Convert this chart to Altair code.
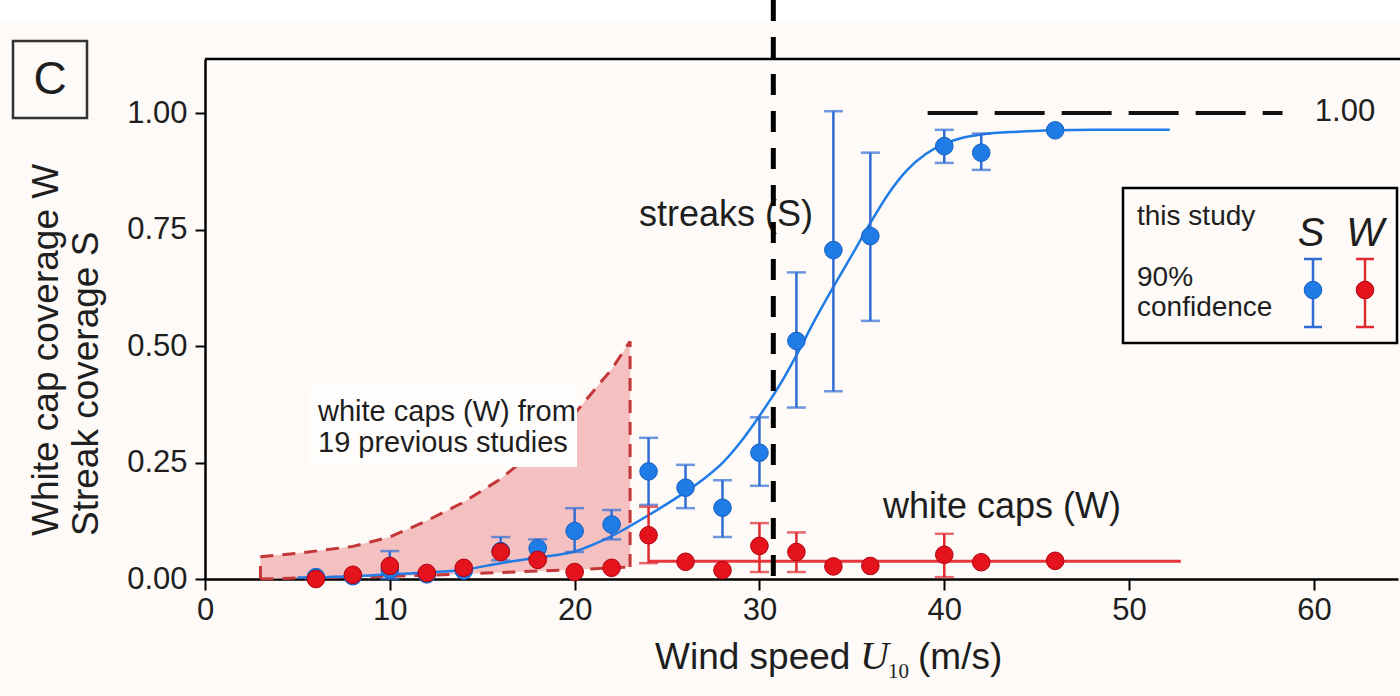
import altair as alt
import pandas as pd

FONT = "Liberation Sans"
SERIF = "Liberation Serif"

# ---------------- data ----------------
# this study: streak coverage S (blue) and white cap coverage W (red)
u_bins = [6, 8, 10, 12, 14, 16, 18, 20, 22, 24, 26, 28, 30, 32, 34, 36, 40, 42, 46]
s_mean = [0.004, 0.006, 0.020, 0.010, 0.018, 0.060, 0.066, 0.103, 0.117, 0.231, 0.196, 0.153,
          0.271, 0.511, 0.706, 0.736, 0.929, 0.915, 0.963]
s_low = [None, None, 0.0, None, None, 0.040, 0.046, 0.058, 0.085, 0.159, 0.152, 0.090,
         0.200, 0.368, 0.403, 0.554, 0.893, 0.878, None]
s_high = [None, None, 0.060, None, None, 0.090, 0.085, 0.152, 0.148, 0.303, 0.245, 0.212,
          0.347, 0.658, 1.004, 0.915, 0.964, 0.956, None]
w_mean = [0.0, 0.009, 0.028, 0.013, 0.024, 0.058, 0.041, 0.015, 0.024, 0.094, 0.037, 0.019,
          0.071, 0.058, 0.027, 0.028, 0.052, 0.036, 0.039]
w_low = [None, None, None, None, None, None, None, None, None, 0.034, None, None,
         0.015, 0.015, None, None, 0.004, None, None]
w_high = [None, None, None, None, None, None, None, None, None, 0.155, None, None,
          0.120, 0.100, None, None, 0.097, None, None]

# fitted curves
s_fit_u = [5, 8, 10, 12, 14, 16, 18, 20, 22, 24, 26, 27, 28, 29, 30, 31, 32, 33, 34, 35, 36,
           37, 38, 39, 40, 41, 42, 44, 46, 48, 52.2]
s_fit_v = [0.003, 0.006, 0.010, 0.014, 0.020, 0.034, 0.046, 0.059, 0.092, 0.137, 0.187, 0.215,
           0.249, 0.295, 0.350, 0.410, 0.480, 0.556, 0.627, 0.695, 0.764, 0.828, 0.878, 0.912,
           0.934, 0.947, 0.954, 0.960, 0.963, 0.964, 0.964]
w_fit_u = [24, 52.8]
w_fit_v = [0.038, 0.038]

# white caps from 19 previous studies (envelope)
prev_u = [3, 5, 8, 10, 12, 14, 16, 18, 20, 22, 23]
prev_low = [0.0, 0.002, 0.004, 0.006, 0.008, 0.011, 0.014, 0.017, 0.020, 0.024, 0.026]
prev_high = [0.048, 0.055, 0.070, 0.090, 0.125, 0.165, 0.215, 0.280, 0.355, 0.450, 0.510]

threshold_u = [30.75]
ref_u = [39.1, 58.3]
ref_v = [1.0]

x_ticks = [0, 10, 20, 30, 40, 50, 60]
y_ticks = [0.0, 0.25, 0.5, 0.75, 1.0]

# ---------------- layout ----------------
W, H = 1193, 520
XMAX, YMAX = 64.55, 1.116
BG = "#fdfaf7"
BLUE = "#1f7be6"
BLUE_BAR = "#2f6cd4"
RED = "#e5141c"
RED_BAR = "#e02a30"
DRED = "#c43638"
TXT = "#1e1e1e"
PSIZE = 310

xs = alt.Scale(domain=[0, XMAX], nice=False, zero=False)
ys = alt.Scale(domain=[0, YMAX], nice=False, zero=False)
xaxis = alt.Axis(values=x_ticks, title=None, grid=False, domainColor="black", domainWidth=2.5,
                 tickColor="black", tickWidth=2, tickSize=11, labelFont=FONT, labelFontSize=31,
                 labelColor=TXT, labelPadding=5, format="d", labelFlush=False, labelOverlap=False)
yaxis = alt.Axis(values=y_ticks, title=None, grid=False, domainColor="black", domainWidth=2.5,
                 tickColor="black", tickWidth=2, tickSize=10, labelFont=FONT, labelFontSize=31,
                 labelColor=TXT, labelPadding=8, format=".2f", labelOverlap=False)


def X(f, **kw):
    return alt.X(f, type="quantitative", scale=xs, axis=xaxis, **kw)


def Y(f, **kw):
    return alt.Y(f, type="quantitative", scale=ys, axis=yaxis, **kw)


one = pd.DataFrame({"k": [0]})

pts = pd.DataFrame({"u": u_bins, "s": s_mean, "slo": s_low, "shi": s_high,
                    "w": w_mean, "wlo": w_low, "whi": w_high})
s_err = pts.dropna(subset=["slo", "shi"])
w_err = pts.dropna(subset=["wlo", "whi"])
s_caps = pd.DataFrame({"u": list(s_err["u"]) * 2, "v": list(s_err["slo"]) + list(s_err["shi"])})
w_caps = pd.DataFrame({"u": list(w_err["u"]) * 2, "v": list(w_err["wlo"]) + list(w_err["whi"])})
s_fit = pd.DataFrame({"u": s_fit_u, "v": s_fit_v})
w_fit = pd.DataFrame({"u": w_fit_u, "v": w_fit_v})
prev = pd.DataFrame({"u": prev_u, "lo": prev_low, "hi": prev_high})


def ptext(txt, px, py, size, align="left", baseline="middle", angle=0, font=FONT, style="normal",
          color=TXT):
    return alt.Chart(one).mark_text(text=txt, align=align, baseline=baseline, angle=angle,
                                    font=font, fontSize=size, fontStyle=style, color=color).encode(
        x=alt.value(px), y=alt.value(py))


def prect(x1, y1, x2, y2, fill, stroke=None, sw=0):
    kw = dict(fill=fill, strokeWidth=sw)
    if stroke:
        kw["stroke"] = stroke
    return alt.Chart(one).mark_rect(**kw).encode(
        x=alt.value(x1), x2=alt.value(x2), y=alt.value(y1), y2=alt.value(y2))


layers = []
# white strip on top of the picture
layers.append(prect(-205, -59, W + 2, -37, "white"))
# top border of the frame
layers.append(alt.Chart(one).mark_rule(color="black", strokeWidth=2.5).encode(
    x=alt.value(0), x2=alt.value(W + 2), y=alt.value(0)))

# previous studies envelope
layers.append(alt.Chart(prev).mark_area(color="#f4c1c0", opacity=1).encode(
    x=X("u"), y=Y("lo"), y2="hi"))
layers.append(alt.Chart(prev).mark_line(color=DRED, strokeWidth=3, strokeDash=[13, 9]).encode(
    x=X("u"), y=Y("hi")))
layers.append(alt.Chart(prev).mark_line(color=DRED, strokeWidth=3, strokeDash=[13, 9]).encode(
    x=X("u"), y=Y("lo")))
edges = pd.DataFrame({"u": [prev_u[0], prev_u[-1]], "lo": [prev_low[0], prev_low[-1]],
                      "hi": [prev_high[0], prev_high[-1]]})
layers.append(alt.Chart(edges).mark_rule(color=DRED, strokeWidth=3, strokeDash=[13, 9]).encode(
    x=X("u"), y=Y("lo"), y2="hi"))
# label box for previous studies
layers.append(prect(307 - 205, 385 - 59, 577 - 205, 467 - 59, "#fefdfc"))
layers.append(ptext("white caps (W) from", 318 - 205, 412 - 59, 29))
layers.append(ptext("19 previous studies", 318 - 205, 443 - 59, 29))

# fits
layers.append(alt.Chart(s_fit).mark_line(color=BLUE, strokeWidth=2.5, interpolate="monotone").encode(
    x=X("u"), y=Y("v")))
layers.append(alt.Chart(w_fit).mark_line(color="#e8363c", strokeWidth=3).encode(
    x=X("u"), y=Y("v")))

# streaks: error bars + points
layers.append(alt.Chart(s_err).mark_rule(color=BLUE_BAR, strokeWidth=2.5).encode(
    x=X("u"), y=Y("slo"), y2="shi"))
layers.append(alt.Chart(s_caps).mark_tick(color=BLUE_BAR, orient="horizontal", size=19,
                                          thickness=2.5).encode(x=X("u"), y=Y("v")))
layers.append(alt.Chart(pts).mark_point(filled=True, shape="circle", size=PSIZE, color=BLUE,
                                        opacity=1, stroke="#1660c0", strokeWidth=1).encode(
    x=X("u"), y=Y("s")))
# white caps: error bars + points
layers.append(alt.Chart(w_err).mark_rule(color=RED_BAR, strokeWidth=2.5).encode(
    x=X("u"), y=Y("wlo"), y2="whi"))
layers.append(alt.Chart(w_caps).mark_tick(color=RED_BAR, orient="horizontal", size=19,
                                          thickness=2.5).encode(x=X("u"), y=Y("v")))
layers.append(alt.Chart(pts).mark_point(filled=True, shape="circle", size=PSIZE, color=RED,
                                        opacity=1, stroke="#b00010", strokeWidth=1).encode(
    x=X("u"), y=Y("w")))

# annotations
layers.append(ptext("streaks (S)", 726 - 205, 215 - 59, 36, align="center"))
layers.append(ptext("white caps (W)", 1002 - 205, 507 - 59, 36, align="center"))

# reference line at 1.00
refdf = pd.DataFrame({"u": [ref_u[0]], "u2": [ref_u[1]], "v": ref_v})
layers.append(alt.Chart(refdf).mark_rule(color="#111111", strokeWidth=4, strokeDash=[50, 17]).encode(
    x=X("u"), x2="u2", y=Y("v")))
layers.append(ptext("1.00", 1345 - 205, 112 - 59, 31, align="center"))

# threshold (vertical dashed line)
thr = pd.DataFrame({"u": threshold_u})
layers.append(alt.Chart(thr).mark_rule(color="black", strokeWidth=5, strokeDash=[21, 16]).encode(
    x=X("u"), y=alt.value(-59), y2=alt.value(H)))

# legend box
layers.append(prect(1123 - 205, 188 - 59, 1397 - 205, 343 - 59, BG, stroke="black", sw=2.5))
layers.append(ptext("this study", 1137 - 205, 217 - 59, 28))
layers.append(ptext("90%", 1137 - 205, 278 - 59, 28))
layers.append(ptext("confidence", 1137 - 205, 308 - 59, 28))
layers.append(ptext("S", 1311 - 205, 234 - 59, 40, align="center", style="italic"))
layers.append(ptext("W", 1365 - 205, 234 - 59, 40, align="center", style="italic"))
for cx, col, pc, ps in [(1313 - 205, BLUE_BAR, BLUE, "#1660c0"), (1365 - 205, RED_BAR, RED, "#b00010")]:
    layers.append(alt.Chart(one).mark_rule(color=col, strokeWidth=2.5).encode(
        x=alt.value(cx), y=alt.value(259 - 59), y2=alt.value(327 - 59)))
    for yy in (259 - 59, 327 - 59):
        layers.append(alt.Chart(one).mark_rule(color=col, strokeWidth=2.5).encode(
            x=alt.value(cx - 9), x2=alt.value(cx + 9), y=alt.value(yy)))
    layers.append(alt.Chart(one).mark_point(filled=True, shape="circle", size=PSIZE, color=pc,
                                            opacity=1, stroke=ps, strokeWidth=1).encode(
        x=alt.value(cx), y=alt.value(290 - 59)))

# panel label "C"
layers.append(prect(13 - 205, 41 - 59, 87 - 205, 118 - 59, "none", stroke="#333333", sw=2.5))
layers.append(ptext("C", 50 - 205, 80 - 59, 46, align="center"))

# axis titles
layers.append(ptext("White cap coverage W", 47 - 205, 536 - 59, 37, align="left", angle=270))
layers.append(ptext("Streak coverage S", 87 - 205, 536 - 59, 37, align="left", angle=270))
bx = 655 - 205
by = 669 - 59
layers.append(ptext("Wind speed", bx, by, 37, baseline="alphabetic"))
layers.append(ptext("U", bx + 205, by, 40, baseline="alphabetic", font=SERIF, style="italic"))
layers.append(ptext("10", bx + 233, by + 9, 21, baseline="alphabetic", font=SERIF))
layers.append(ptext("(m/s)", bx + 263, by, 37, baseline="alphabetic"))

chart = alt.layer(*layers).properties(
    width=W, height=H,
    padding={"left": 205, "top": 59, "right": 2, "bottom": 117},
    autosize=alt.AutoSizeParams(type="none"),
    background=BG,
).configure_view(stroke=None)

chart.save("out.html", embed_options={"renderer": "svg", "actions": False})
